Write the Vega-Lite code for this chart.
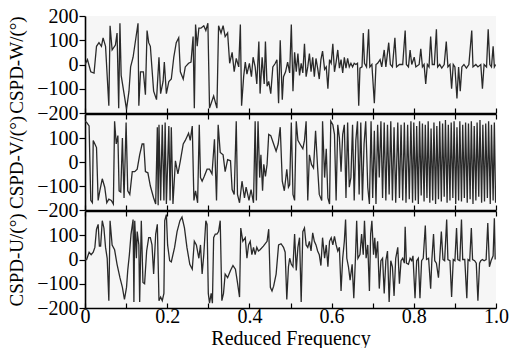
{
  "$schema": "https://vega.github.io/schema/vega-lite/v6.json",
  "padding": {"left": 7, "top": 6, "right": 2, "bottom": 0},
  "spacing": 1,
  "bounds": "flush",
  "config": {
    "font": "Liberation Serif",
    "view": {"stroke": null, "fill": "#f6f6f6"},
    "axis": {"labelFont": "Liberation Serif", "titleFont": "Liberation Serif", "labelFontSize": 20, "titleFontSize": 19, "titleFontWeight": "normal", "labelColor": "black", "titleColor": "black", "domainColor": "black", "tickColor": "black", "grid": false, "domainWidth": 1.6, "tickWidth": 1.2, "labelOverlap": false}
  },
  "datasets": {
    "W": [
      {"f":0.000,"v":0},{"f":0.006,"v":20},{"f":0.014,"v":-30},{"f":0.022,"v":-35},{"f":0.028,"v":75},{"f":0.034,"v":90},{"f":0.040,"v":75},{"f":0.044,"v":110},{"f":0.050,"v":75},{"f":0.058,"v":-170},{"f":0.061,"v":160},{"f":0.066,"v":60},{"f":0.074,"v":80},{"f":0.078,"v":130},{"f":0.082,"v":-180},{"f":0.085,"v":170},{"f":0.088,"v":-45},{"f":0.095,"v":-120},{"f":0.101,"v":-185},{"f":0.107,"v":-110},{"f":0.111,"v":-10},{"f":0.117,"v":30},{"f":0.123,"v":100},{"f":0.129,"v":170},{"f":0.131,"v":-170},{"f":0.135,"v":-30},{"f":0.142,"v":-30},{"f":0.147,"v":-125},{"f":0.151,"v":140},{"f":0.155,"v":90},{"f":0.159,"v":75},{"f":0.167,"v":-110},{"f":0.174,"v":-145},{"f":0.180,"v":30},{"f":0.184,"v":-120},{"f":0.190,"v":-70},{"f":0.193,"v":10},{"f":0.198,"v":-120},{"f":0.204,"v":-70},{"f":0.210,"v":-60},{"f":0.216,"v":30},{"f":0.222,"v":90},{"f":0.228,"v":110},{"f":0.232,"v":-30},{"f":0.239,"v":-60},{"f":0.244,"v":-10},{"f":0.252,"v":5},{"f":0.258,"v":10},{"f":0.263,"v":115},{"f":0.266,"v":-180},{"f":0.269,"v":165},{"f":0.273,"v":75},{"f":0.277,"v":150},{"f":0.282,"v":150},{"f":0.289,"v":160},{"f":0.294,"v":140},{"f":0.299,"v":170},{"f":0.303,"v":-180},{"f":0.313,"v":-130},{"f":0.321,"v":-180},{"f":0.325,"v":160},{"f":0.331,"v":130},{"f":0.336,"v":160},{"f":0.341,"v":115},{"f":0.347,"v":130},{"f":0.352,"v":5},{"f":0.358,"v":50},{"f":0.363,"v":-30},{"f":0.368,"v":25},{"f":0.374,"v":-10},{"f":0.378,"v":165},{"f":0.381,"v":-170},{"f":0.386,"v":-50},{"f":0.390,"v":10},{"f":0.394,"v":-40},{"f":0.400,"v":5},{"f":0.405,"v":-50},{"f":0.409,"v":30},{"f":0.414,"v":-10},{"f":0.418,"v":-80},{"f":0.423,"v":95},{"f":0.426,"v":-120},{"f":0.431,"v":30},{"f":0.436,"v":-80},{"f":0.439,"v":95},{"f":0.443,"v":-90},{"f":0.447,"v":-70},{"f":0.452,"v":-120},{"f":0.457,"v":-10},{"f":0.463,"v":5},{"f":0.467,"v":20},{"f":0.471,"v":-160},{"f":0.475,"v":100},{"f":0.480,"v":-145},{"f":0.483,"v":-50},{"f":0.488,"v":-30},{"f":0.493,"v":10},
      {"f":0.498,"v":-35},{"f":0.502,"v":165},{"f":0.506,"v":-110},{"f":0.510,"v":50},{"f":0.514,"v":-30},{"f":0.518,"v":45},{"f":0.522,"v":-45},{"f":0.526,"v":5},{"f":0.530,"v":-35},{"f":0.534,"v":85},{"f":0.538,"v":-50},{"f":0.542,"v":-10},{"f":0.546,"v":45},{"f":0.550,"v":-30},{"f":0.554,"v":30},{"f":0.558,"v":-50},{"f":0.562,"v":25},{"f":0.566,"v":-15},{"f":0.570,"v":-60},{"f":0.574,"v":20},{"f":0.578,"v":55},{"f":0.583,"v":-20},{"f":0.587,"v":-10},{"f":0.591,"v":-100},{"f":0.595,"v":20},{"f":0.599,"v":5},{"f":0.603,"v":85},{"f":0.607,"v":-30},{"f":0.611,"v":10},{"f":0.615,"v":60},{"f":0.619,"v":-15},{"f":0.623,"v":20},{"f":0.627,"v":-35},{"f":0.631,"v":30},{"f":0.635,"v":-15},{"f":0.639,"v":25},{"f":0.643,"v":-10},{"f":0.647,"v":5},{"f":0.651,"v":-10},{"f":0.655,"v":5},{"f":0.659,"v":0},{"f":0.663,"v":5},{"f":0.666,"v":-170},{"f":0.669,"v":-15},{"f":0.674,"v":-10},{"f":0.677,"v":130},{"f":0.680,"v":5},{"f":0.685,"v":-10},{"f":0.690,"v":145},{"f":0.693,"v":-10},{"f":0.698,"v":0},{"f":0.704,"v":-160},{"f":0.708,"v":0},{"f":0.712,"v":5},{"f":0.718,"v":20},{"f":0.722,"v":-10},{"f":0.728,"v":60},{"f":0.732,"v":-10},{"f":0.739,"v":90},{"f":0.743,"v":0},{"f":0.748,"v":-10},{"f":0.754,"v":110},{"f":0.758,"v":-10},{"f":0.765,"v":0},{"f":0.773,"v":0},{"f":0.779,"v":140},{"f":0.782,"v":0},{"f":0.787,"v":-10},{"f":0.791,"v":60},{"f":0.795,"v":0},{"f":0.801,"v":30},{"f":0.805,"v":-10},{"f":0.813,"v":0},{"f":0.817,"v":65},{"f":0.821,"v":-10},{"f":0.825,"v":0},{"f":0.829,"v":-80},{"f":0.833,"v":0},{"f":0.837,"v":-10},{"f":0.841,"v":115},{"f":0.845,"v":0},{"f":0.850,"v":0},{"f":0.855,"v":145},{"f":0.858,"v":-10},{"f":0.863,"v":0},{"f":0.868,"v":-15},{"f":0.874,"v":0},{"f":0.879,"v":95},{"f":0.883,"v":-10},{"f":0.888,"v":0},{"f":0.892,"v":-100},{"f":0.896,"v":0},{"f":0.900,"v":-10},{"f":0.905,"v":-140},{"f":0.909,"v":-10},{"f":0.913,"v":-110},{"f":0.917,"v":-10},{"f":0.922,"v":0},{"f":0.928,"v":-15},{"f":0.934,"v":0},{"f":0.941,"v":140},{"f":0.944,"v":-10},{"f":0.951,"v":0},{"f":0.956,"v":-10},{"f":0.963,"v":0},{"f":0.967,"v":-100},{"f":0.971,"v":0},{"f":0.977,"v":-10},{"f":0.981,"v":145},{"f":0.985,"v":0},{"f":0.989,"v":-10},{"f":0.993,"v":75},{"f":0.996,"v":-10},{"f":0.999,"v":0}
    ],
    "V": [
      {"f":0.000,"v":170},{"f":0.004,"v":165},{"f":0.010,"v":150},{"f":0.014,"v":-160},{"f":0.018,"v":-170},{"f":0.020,"v":90},{"f":0.024,"v":75},{"f":0.028,"v":60},{"f":0.032,"v":-160},{"f":0.036,"v":-120},{"f":0.042,"v":-70},{"f":0.048,"v":-105},{"f":0.053,"v":-170},{"f":0.058,"v":-155},{"f":0.064,"v":-160},{"f":0.069,"v":-175},{"f":0.072,"v":170},{"f":0.076,"v":75},{"f":0.080,"v":110},{"f":0.083,"v":-120},{"f":0.087,"v":-125},{"f":0.091,"v":100},{"f":0.095,"v":-150},{"f":0.100,"v":165},{"f":0.104,"v":-120},{"f":0.109,"v":-135},{"f":0.115,"v":-40},{"f":0.121,"v":-40},{"f":0.127,"v":-30},{"f":0.133,"v":30},{"f":0.139,"v":75},{"f":0.143,"v":75},{"f":0.147,"v":-40},{"f":0.153,"v":-45},{"f":0.159,"v":-100},{"f":0.167,"v":-150},{"f":0.172,"v":-175},{"f":0.176,"v":145},{"f":0.178,"v":-180},{"f":0.180,"v":155},{"f":0.184,"v":-160},{"f":0.188,"v":155},{"f":0.192,"v":-160},{"f":0.195,"v":165},{"f":0.198,"v":-175},{"f":0.204,"v":150},{"f":0.207,"v":-160},{"f":0.210,"v":145},{"f":0.214,"v":-175},{"f":0.220,"v":5},{"f":0.226,"v":-50},{"f":0.232,"v":5},{"f":0.239,"v":75},{"f":0.244,"v":90},{"f":0.252,"v":120},{"f":0.256,"v":90},{"f":0.261,"v":150},{"f":0.265,"v":-160},{"f":0.269,"v":-120},{"f":0.274,"v":-170},{"f":0.278,"v":155},{"f":0.281,"v":-65},{"f":0.285,"v":-80},{"f":0.290,"v":-60},{"f":0.297,"v":-30},{"f":0.303,"v":-30},{"f":0.309,"v":-50},{"f":0.315,"v":95},{"f":0.320,"v":-160},{"f":0.324,"v":155},{"f":0.329,"v":40},{"f":0.336,"v":30},{"f":0.341,"v":-40},{"f":0.347,"v":10},{"f":0.354,"v":5},{"f":0.358,"v":-115},{"f":0.363,"v":-135},{"f":0.368,"v":170},{"f":0.371,"v":-135},{"f":0.376,"v":-170},{"f":0.382,"v":-80},{"f":0.388,"v":-150},{"f":0.392,"v":-105},{"f":0.399,"v":-160},{"f":0.404,"v":-115},{"f":0.410,"v":-170},{"f":0.414,"v":170},{"f":0.417,"v":-160},{"f":0.421,"v":170},{"f":0.425,"v":-65},{"f":0.428,"v":30},{"f":0.432,"v":-120},{"f":0.435,"v":-10},{"f":0.439,"v":-60},{"f":0.443,"v":-10},{"f":0.447,"v":115},{"f":0.452,"v":110},{"f":0.459,"v":75},{"f":0.465,"v":45},{"f":0.470,"v":75},{"f":0.475,"v":145},{"f":0.480,"v":-80},{"f":0.485,"v":-120},{"f":0.491,"v":-30},{"f":0.495,"v":-105},
      {"f":0.498,"v":-95},{"f":0.502,"v":165},{"f":0.506,"v":-135},{"f":0.510,"v":-160},{"f":0.514,"v":170},{"f":0.518,"v":90},{"f":0.523,"v":75},{"f":0.530,"v":55},{"f":0.534,"v":90},{"f":0.538,"v":170},{"f":0.542,"v":-160},{"f":0.546,"v":30},{"f":0.551,"v":-10},{"f":0.556,"v":-25},{"f":0.561,"v":130},{"f":0.566,"v":-25},{"f":0.570,"v":-135},{"f":0.576,"v":-160},{"f":0.578,"v":170},{"f":0.583,"v":-65},{"f":0.587,"v":55},{"f":0.591,"v":-150},{"f":0.595,"v":-175},{"f":0.598,"v":170},{"f":0.603,"v":155},{"f":0.607,"v":115},{"f":0.611,"v":-160},{"f":0.615,"v":155},{"f":0.619,"v":100},{"f":0.623,"v":-40},{"f":0.627,"v":115},{"f":0.631,"v":155},{"f":0.635,"v":-150},{"f":0.639,"v":165},{"f":0.643,"v":-105},{"f":0.647,"v":-65},{"f":0.651,"v":155},{"f":0.655,"v":-160},{"f":0.659,"v":90},{"f":0.663,"v":170},{"f":0.667,"v":-135},{"f":0.671,"v":165},{"f":0.675,"v":-160},{"f":0.679,"v":75},{"f":0.683,"v":170},{"f":0.688,"v":-105},{"f":0.692,"v":-175},{"f":0.696,"v":170},{"f":0.700,"v":-150},{"f":0.704,"v":130},{"f":0.708,"v":-175},{"f":0.712,"v":155},{"f":0.716,"v":-65},{"f":0.720,"v":170},{"f":0.724,"v":-150},{"f":0.728,"v":165},{"f":0.732,"v":-160},{"f":0.736,"v":155},{"f":0.740,"v":-135},{"f":0.744,"v":170},{"f":0.748,"v":-160},{"f":0.752,"v":145},{"f":0.756,"v":-170},{"f":0.761,"v":165},{"f":0.765,"v":-150},{"f":0.769,"v":155},{"f":0.773,"v":-160},{"f":0.777,"v":165},{"f":0.781,"v":-170},{"f":0.785,"v":155},{"f":0.789,"v":-155},{"f":0.793,"v":170},{"f":0.797,"v":-170},
      {"f":0.800,"v":165},{"f":0.804,"v":-160},{"f":0.807,"v":150},{"f":0.811,"v":-175},{"f":0.814,"v":170},{"f":0.818,"v":-140},{"f":0.821,"v":160},{"f":0.825,"v":-165},{"f":0.828,"v":155},{"f":0.832,"v":-150},{"f":0.835,"v":170},{"f":0.839,"v":-170},{"f":0.842,"v":140},{"f":0.846,"v":-160},{"f":0.849,"v":165},{"f":0.853,"v":-175},{"f":0.856,"v":150},{"f":0.860,"v":-155},{"f":0.863,"v":170},{"f":0.867,"v":-165},{"f":0.870,"v":160},{"f":0.874,"v":-145},{"f":0.877,"v":175},{"f":0.881,"v":-170},{"f":0.884,"v":155},{"f":0.888,"v":-160},{"f":0.891,"v":165},{"f":0.895,"v":-150},{"f":0.898,"v":170},{"f":0.902,"v":-175},{"f":0.905,"v":145},{"f":0.909,"v":-160},{"f":0.912,"v":170},{"f":0.916,"v":-165},{"f":0.919,"v":155},{"f":0.923,"v":-150},{"f":0.926,"v":165},{"f":0.930,"v":-170},{"f":0.933,"v":160},{"f":0.937,"v":-155},{"f":0.940,"v":170},{"f":0.944,"v":-175},{"f":0.947,"v":150},{"f":0.951,"v":-160},{"f":0.954,"v":165},{"f":0.958,"v":-145},{"f":0.961,"v":175},{"f":0.965,"v":-170},{"f":0.968,"v":155},{"f":0.972,"v":-165},{"f":0.975,"v":160},{"f":0.979,"v":-150},{"f":0.982,"v":170},{"f":0.986,"v":-175},{"f":0.989,"v":155},{"f":0.993,"v":-160},{"f":0.996,"v":165},{"f":0.999,"v":-170}
    ],
    "U": [
      {"f":0.000,"v":0},{"f":0.004,"v":0},{"f":0.010,"v":30},{"f":0.015,"v":20},{"f":0.020,"v":30},{"f":0.024,"v":50},{"f":0.028,"v":125},{"f":0.032,"v":145},{"f":0.035,"v":55},{"f":0.038,"v":55},{"f":0.042,"v":160},{"f":0.046,"v":130},{"f":0.050,"v":50},{"f":0.054,"v":5},{"f":0.058,"v":-170},{"f":0.061,"v":160},{"f":0.066,"v":60},{"f":0.072,"v":40},{"f":0.078,"v":-20},{"f":0.085,"v":-75},{"f":0.091,"v":-115},{"f":0.096,"v":-165},{"f":0.101,"v":-115},{"f":0.104,"v":-45},{"f":0.108,"v":20},{"f":0.112,"v":105},{"f":0.117,"v":165},{"f":0.119,"v":-175},{"f":0.121,"v":160},{"f":0.125,"v":5},{"f":0.127,"v":115},{"f":0.131,"v":60},{"f":0.133,"v":-175},{"f":0.137,"v":160},{"f":0.141,"v":-95},{"f":0.145,"v":-100},{"f":0.150,"v":35},{"f":0.155,"v":90},{"f":0.159,"v":90},{"f":0.163,"v":60},{"f":0.167,"v":-60},{"f":0.172,"v":105},{"f":0.176,"v":145},{"f":0.180,"v":-170},{"f":0.184,"v":-155},{"f":0.188,"v":-170},{"f":0.192,"v":-140},{"f":0.194,"v":160},{"f":0.198,"v":185},{"f":0.201,"v":60},{"f":0.206,"v":-5},{"f":0.210,"v":-10},{"f":0.218,"v":50},{"f":0.224,"v":115},{"f":0.231,"v":160},{"f":0.236,"v":175},{"f":0.242,"v":130},{"f":0.248,"v":50},{"f":0.255,"v":-20},{"f":0.261,"v":-40},{"f":0.266,"v":75},{"f":0.271,"v":60},{"f":0.277,"v":5},{"f":0.281,"v":60},{"f":0.285,"v":-60},{"f":0.289,"v":20},{"f":0.294,"v":160},{"f":0.297,"v":145},{"f":0.300,"v":-140},{"f":0.303,"v":-180},{"f":0.307,"v":-140},{"f":0.310,"v":-180},{"f":0.313,"v":90},{"f":0.317,"v":105},{"f":0.321,"v":105},{"f":0.325,"v":115},{"f":0.329,"v":160},{"f":0.333,"v":-170},{"f":0.337,"v":-140},{"f":0.341,"v":-60},{"f":0.347,"v":-75},{"f":0.354,"v":-45},{"f":0.360,"v":-25},{"f":0.366,"v":-40},{"f":0.371,"v":-95},{"f":0.376,"v":-155},{"f":0.379,"v":130},{"f":0.384,"v":75},{"f":0.390,"v":90},{"f":0.394,"v":5},{"f":0.398,"v":60},{"f":0.402,"v":75},{"f":0.406,"v":20},{"f":0.410,"v":50},{"f":0.414,"v":20},{"f":0.418,"v":50},{"f":0.422,"v":35},{"f":0.426,"v":40},{"f":0.434,"v":55},{"f":0.443,"v":75},{"f":0.447,"v":125},{"f":0.451,"v":-115},{"f":0.455,"v":-130},{"f":0.459,"v":-110},{"f":0.465,"v":-60},{"f":0.471,"v":60},{"f":0.477,"v":65},{"f":0.483,"v":50},{"f":0.487,"v":30},{"f":0.491,"v":-165},{"f":0.495,"v":-30},
      {"f":0.498,"v":5},{"f":0.502,"v":-20},{"f":0.506,"v":-30},{"f":0.510,"v":105},{"f":0.514,"v":-45},{"f":0.518,"v":50},{"f":0.522,"v":90},{"f":0.526,"v":-175},{"f":0.530,"v":115},{"f":0.534,"v":130},{"f":0.538,"v":60},{"f":0.542,"v":50},{"f":0.546,"v":75},{"f":0.550,"v":35},{"f":0.554,"v":110},{"f":0.558,"v":75},{"f":0.562,"v":60},{"f":0.566,"v":35},{"f":0.570,"v":20},{"f":0.574,"v":-25},{"f":0.578,"v":90},{"f":0.583,"v":5},{"f":0.587,"v":60},{"f":0.591,"v":-30},{"f":0.595,"v":75},{"f":0.599,"v":90},{"f":0.603,"v":60},{"f":0.607,"v":95},{"f":0.611,"v":60},{"f":0.615,"v":35},{"f":0.619,"v":50},{"f":0.623,"v":-130},{"f":0.627,"v":5},{"f":0.631,"v":75},{"f":0.634,"v":165},{"f":0.637,"v":5},{"f":0.641,"v":-30},{"f":0.645,"v":-85},{"f":0.650,"v":-20},{"f":0.654,"v":-160},{"f":0.658,"v":5},{"f":0.661,"v":160},{"f":0.664,"v":5},{"f":0.669,"v":20},{"f":0.673,"v":105},{"f":0.677,"v":20},{"f":0.680,"v":160},{"f":0.684,"v":5},{"f":0.688,"v":60},{"f":0.692,"v":-130},{"f":0.695,"v":105},{"f":0.698,"v":160},{"f":0.702,"v":20},{"f":0.705,"v":90},{"f":0.708,"v":5},{"f":0.712,"v":75},{"f":0.716,"v":-120},{"f":0.720,"v":-5},{"f":0.724,"v":5},{"f":0.728,"v":-140},{"f":0.732,"v":-5},{"f":0.736,"v":35},{"f":0.740,"v":-175},{"f":0.744,"v":-5},{"f":0.748,"v":-30},{"f":0.752,"v":-150},{"f":0.756,"v":5},{"f":0.761,"v":50},{"f":0.765,"v":-100},{"f":0.769,"v":-5},{"f":0.773,"v":5},{"f":0.777,"v":-15},{"f":0.779,"v":135},{"f":0.782,"v":-15},{"f":0.787,"v":-20},{"f":0.791,"v":5},{"f":0.795,"v":-5},{"f":0.798,"v":15},{"f":0.803,"v":-160},{"f":0.807,"v":-5},{"f":0.811,"v":5},{"f":0.815,"v":-160},{"f":0.819,"v":-5},{"f":0.823,"v":5},{"f":0.828,"v":140},{"f":0.831,"v":0},{"f":0.836,"v":5},{"f":0.841,"v":-120},{"f":0.844,"v":0},{"f":0.848,"v":105},{"f":0.851,"v":-5},{"f":0.855,"v":-15},{"f":0.860,"v":-75},{"f":0.863,"v":0},{"f":0.867,"v":115},{"f":0.871,"v":0},{"f":0.875,"v":-5},{"f":0.880,"v":165},{"f":0.883,"v":0},{"f":0.888,"v":-5},{"f":0.892,"v":-155},{"f":0.896,"v":0},{"f":0.900,"v":-5},{"f":0.904,"v":130},{"f":0.907,"v":0},{"f":0.912,"v":-5},{"f":0.916,"v":165},{"f":0.919,"v":0},{"f":0.924,"v":0},{"f":0.929,"v":-160},{"f":0.932,"v":0},{"f":0.936,"v":-5},{"f":0.940,"v":130},{"f":0.943,"v":0},{"f":0.948,"v":-5},{"f":0.952,"v":-15},{"f":0.956,"v":-170},{"f":0.960,"v":-15},{"f":0.963,"v":-5},{"f":0.967,"v":0},{"f":0.971,"v":-5},{"f":0.976,"v":0},{"f":0.980,"v":150},{"f":0.984,"v":-30},{"f":0.988,"v":-5},{"f":0.993,"v":15},{"f":0.996,"v":170},{"f":0.998,"v":0}
    ]
  },
  "vconcat": [
    {
      "width": 411, "height": 97,
      "data": {"name": "W"},
      "mark": {"type": "line", "color": "#2a2a2a", "strokeWidth": 1.3, "clip": true},
      "encoding": {
        "x": {"field": "f", "type": "quantitative", "scale": {"domain": [0, 1], "nice": false},
              "axis": {"title": null, "labels": false, "values": [0,0.1,0.2,0.3,0.4,0.5,0.6,0.7,0.8,0.9,1.0], "tickSize": -5}},
        "y": {"field": "v", "type": "quantitative", "scale": {"domain": [-200, 200], "nice": false},
              "axis": {"title": "CSPD-W/(°)", "values": [-200,-100,0,100,200], "tickSize": 6, "labelPadding": 1, "titlePadding": 10}}
      }
    },
    {
      "width": 411, "height": 96,
      "data": {"name": "V"},
      "resolve": {"axis": {"x": "independent", "y": "independent"}},
      "layer": [
        {
          "mark": {"type": "line", "color": "#2a2a2a", "strokeWidth": 1.3, "clip": true},
          "encoding": {
            "x": {"field": "f", "type": "quantitative", "scale": {"domain": [0, 1], "nice": false},
                  "axis": {"title": null, "labels": false, "values": [0,0.1,0.2,0.3,0.4,0.5,0.6,0.7,0.8,0.9,1.0], "tickSize": -5}},
            "y": {"field": "v", "type": "quantitative", "scale": {"domain": [-200, 200], "nice": false},
                  "axis": {"title": "CSPD-V/(°)", "values": [-200,-100,0,100], "tickSize": 6, "labelPadding": 1, "titlePadding": 10}}
          }
        },
        {
          "mark": {"type": "line", "opacity": 0},
          "encoding": {
            "x": {"field": "f", "type": "quantitative", "axis": {"orient": "top", "title": null, "labels": false, "values": [0,0.1,0.2,0.3,0.4,0.5,0.6,0.7,0.8,0.9,1.0], "tickSize": -5}},
            "y": {"field": "v", "type": "quantitative", "axis": null}
          }
        }
      ]
    },
    {
      "width": 411, "height": 97,
      "data": {"name": "U"},
      "resolve": {"axis": {"x": "independent", "y": "independent"}},
      "layer": [
        {
          "mark": {"type": "line", "color": "#2a2a2a", "strokeWidth": 1.3, "clip": true},
          "encoding": {
            "x": {"field": "f", "type": "quantitative", "scale": {"domain": [0, 1], "nice": false},
                  "axis": {"title": "Reduced Frequency", "values": [0,0.1,0.2,0.3,0.4,0.5,0.6,0.7,0.8,0.9,1.0], "tickSize": -5, "labelPadding": 3, "labelFlush": false, "titlePadding": 2, "titleFontSize": 20,
                           "labelExpr": "round(datum.value*10) % 2 == 1 ? '' : (datum.value == 0 ? '0' : format(datum.value, '.1f'))"}},
            "y": {"field": "v", "type": "quantitative", "scale": {"domain": [-200, 200], "nice": false},
                  "axis": {"title": "CSPD-U/(°)", "values": [-200,-100,0,100], "tickSize": 6, "labelPadding": 1, "titlePadding": 10}}
          }
        },
        {
          "mark": {"type": "line", "opacity": 0},
          "encoding": {
            "x": {"field": "f", "type": "quantitative", "axis": {"orient": "top", "title": null, "labels": false, "values": [0,0.1,0.2,0.3,0.4,0.5,0.6,0.7,0.8,0.9,1.0], "tickSize": -5}},
            "y": {"field": "v", "type": "quantitative", "axis": null}
          }
        }
      ]
    }
  ]
}
